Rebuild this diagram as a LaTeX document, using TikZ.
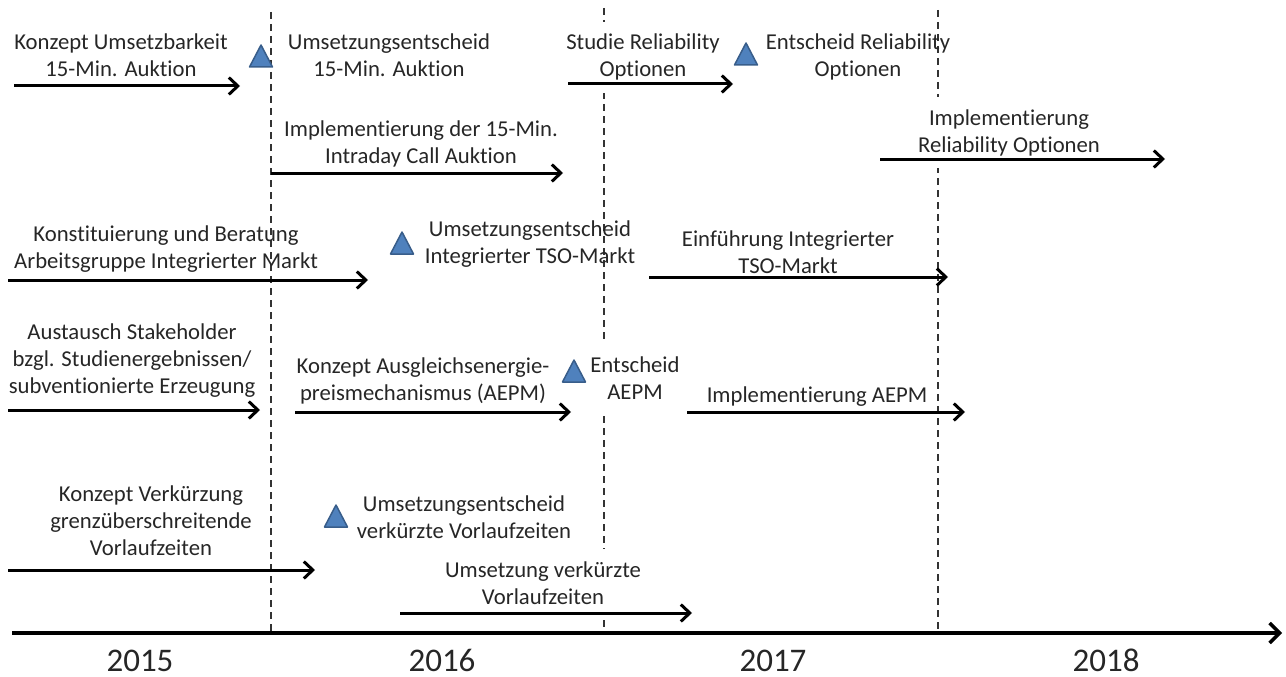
\documentclass[tikz,border=0pt]{standalone}
\usepackage{fontspec}
\setmainfont{Carlito}[Ligatures=NoCommon]
\usetikzlibrary{arrows.meta}
\definecolor{txt}{HTML}{262626}
\definecolor{trifill}{HTML}{4F81BD}
\definecolor{triline}{HTML}{385D8A}
\definecolor{dashcol}{HTML}{333333}
\tikzset{
  lbl/.style={font=\fontsize{22.7}{27}\selectfont, align=center, anchor=base, text=txt, inner sep=0pt},
  wlbl/.style={lbl, fill=white, inner xsep=6pt, inner ysep=12pt},
  yearlbl/.style={font=\fontsize{33}{38}\selectfont, anchor=base, text=txt, inner sep=0pt},
  arr/.style={line width=3pt, -{Straight Barb[length=9pt,width=17pt,line width=3pt]}},
  axisarr/.style={line width=4pt, -{Straight Barb[length=10pt,width=20pt,line width=3.5pt]}},
  divider/.style={dashcol, line width=1.6pt, dash pattern=on 7pt off 5pt},
  tri/.pic={\path[fill=trifill, draw=triline, line width=1.5pt, line join=round] (-11.5,11) -- (0,-11) -- (11.5,11) -- cycle;}
}
\begin{document}
\begin{tikzpicture}[x=1pt,y=-1pt]
\useasboundingbox (0,0) rectangle (1286,677);
% dividers
\coordinate (d1t) at (271,12); \coordinate (d1b) at (271,633);
\coordinate (d2t) at (604,8);  \coordinate (d2b) at (604,633);
\coordinate (d3t) at (938,10); \coordinate (d3b) at (938,633);
\draw[divider] (d1t) -- (d1b);
\draw[divider] (d2t) -- (d2b);
\draw[divider] (d3t) -- (d3b);
% labels (anchor base = baseline of the last line)
\node[lbl]  (t1)  at (121,77)  {Konzept Umsetzbarkeit\\15-Min. Auktion};
\node[lbl]  (t2)  at (389,77)  {Umsetzungsentscheid\\15-Min. Auktion};
\node[wlbl] (t3)  at (643,77)  {Studie Reliability\\Optionen};
\node[lbl]  (t4)  at (858,77)  {Entscheid Reliability\\Optionen};
\node[lbl]  (t5)  at (421,163) {Implementierung der 15-Min.\\Intraday Call Auktion};
\node[wlbl] (t6)  at (1009,152) {Implementierung\\Reliability Optionen};
\node[lbl]  (t7)  at (166,268) {Konstituierung und Beratung\\Arbeitsgruppe Integrierter Markt};
\node[lbl]  (t8)  at (530,263) {Umsetzungsentscheid\\Integrierter TSO-Markt};
\node[lbl]  (t9)  at (788,273) {Einführung Integrierter\\TSO-Markt};
\node[lbl]  (t10) at (132,393) {Austausch Stakeholder\\bzgl. Studienergebnissen/\\subventionierte Erzeugung};
\node[lbl]  (t11) at (423,400) {Konzept Ausgleichsenergie-\\preismechanismus (AEPM)};
\node[wlbl] (t12) at (635,399) {Entscheid\\AEPM};
\node[lbl]  (t13) at (817,402) {Implementierung AEPM};
\node[lbl]  (t14) at (151,555) {Konzept Verkürzung\\grenzüberschreitende\\Vorlaufzeiten};
\node[lbl]  (t15) at (464,538) {Umsetzungsentscheid\\verkürzte Vorlaufzeiten};
\node[wlbl] (t16) at (543,604) {Umsetzung verkürzte\\Vorlaufzeiten};
% milestones
\pic at (261,56) {tri};
\pic at (746,54) {tri};
\pic at (402,243) {tri};
\pic at (574,371) {tri};
\pic at (336,516) {tri};
% arrows
\coordinate (a1s) at (14,86);   \coordinate (a1e) at (240,86);
\coordinate (a2s) at (568,84);  \coordinate (a2e) at (733,84);
\coordinate (a3s) at (271,173); \coordinate (a3e) at (563,173);
\coordinate (a4s) at (880,159); \coordinate (a4e) at (1165,159);
\coordinate (a5s) at (8,280);   \coordinate (a5e) at (368,280);
\coordinate (a6s) at (649,277); \coordinate (a6e) at (948,277);
\coordinate (a7s) at (8,410);   \coordinate (a7e) at (260,410);
\coordinate (a8s) at (295,412); \coordinate (a8e) at (571,412);
\coordinate (a9s) at (687,412); \coordinate (a9e) at (965,412);
\coordinate (a10s) at (8,570);  \coordinate (a10e) at (315,570);
\coordinate (a11s) at (400,613); \coordinate (a11e) at (692,613);
\foreach \i in {1,...,11} \draw[arr] (a\i s) -- (a\i e);
% axis
\coordinate (ax0) at (12,633); \coordinate (ax1) at (1282,633);
\draw[axisarr] (ax0) -- (ax1);
\node[yearlbl] (y15) at (140,671) {2015};
\node[yearlbl] (y16) at (442,671) {2016};
\node[yearlbl] (y17) at (773,671) {2017};
\node[yearlbl] (y18) at (1106,671) {2018};
\end{tikzpicture}
\end{document}
